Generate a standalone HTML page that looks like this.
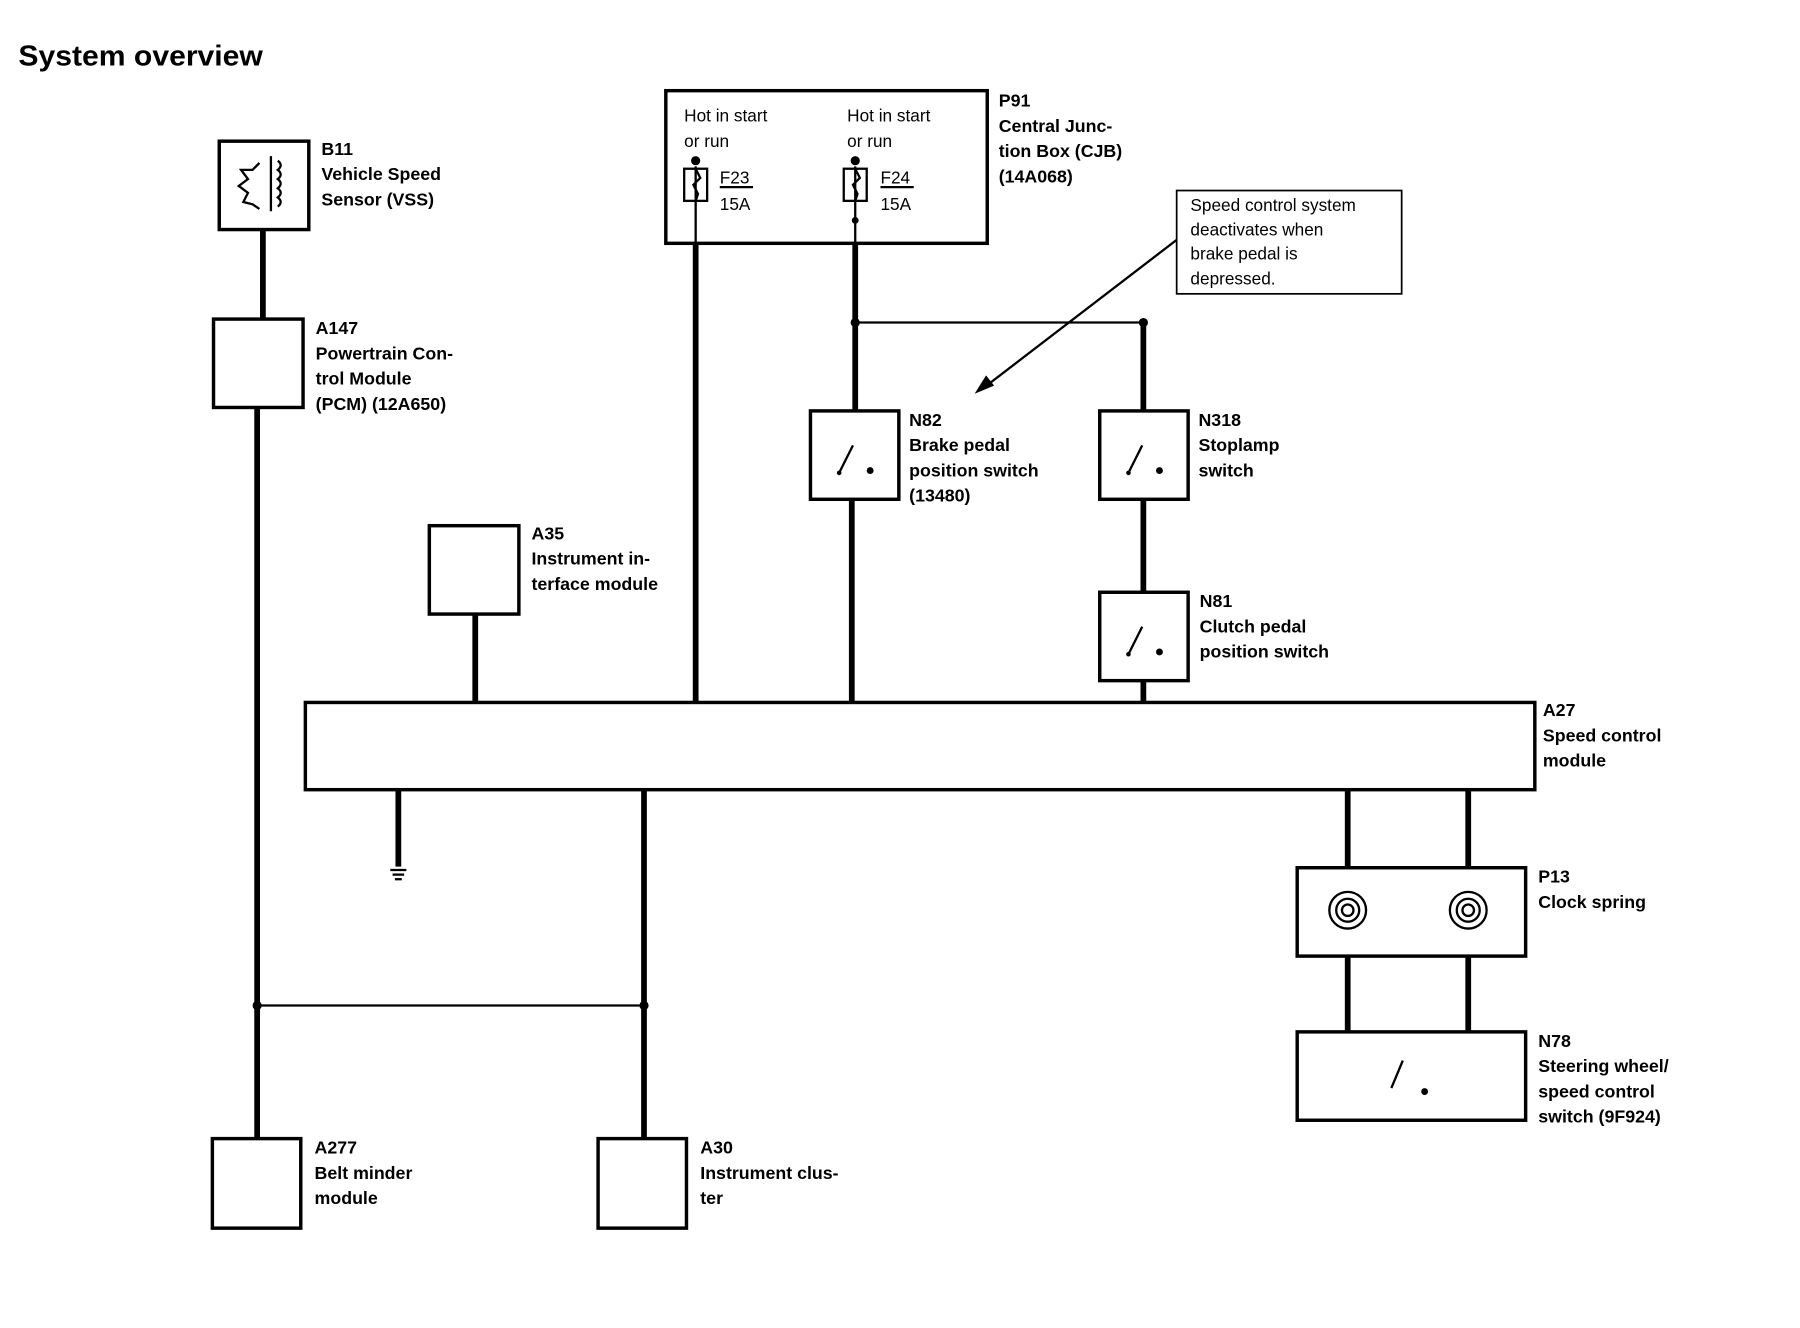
<!DOCTYPE html>
<html><head><meta charset="utf-8"><style>
html,body{margin:0;padding:0;background:#fff}
svg{display:block}
text{font-family:"Liberation Sans",Arial,sans-serif;fill:#000}
.b{font-weight:bold;font-size:15.5px}
.n{font-size:15px}
</style></head><body>
<svg width="1800" height="1328" viewBox="0 0 1568 1157" preserveAspectRatio="none" xmlns="http://www.w3.org/2000/svg">
<text x="16" y="57" textLength="213" lengthAdjust="spacingAndGlyphs" style="font-weight:bold;font-size:25px">System overview</text>
<g fill="none" stroke="#000" stroke-width="3">
<rect x="191" y="123" width="78" height="77"/>
<rect x="186" y="278" width="78" height="77"/>
<rect x="580" y="79" width="280" height="133"/>
<rect x="374" y="458" width="78" height="77"/>
<rect x="706" y="358" width="77" height="77"/>
<rect x="958" y="358" width="77" height="77"/>
<rect x="958" y="516" width="77" height="77"/>
<rect x="266" y="612" width="1071" height="76"/>
<rect x="1130" y="756" width="199" height="77"/>
<rect x="1130" y="899" width="199" height="77"/>
<rect x="185" y="992" width="77" height="78"/>
<rect x="521" y="992" width="77" height="78"/>
</g>
<rect x="1025" y="166" width="196" height="90" fill="none" stroke="#000" stroke-width="1.5"/>
<g stroke="#000" stroke-width="5" fill="none">
<line x1="229" y1="200" x2="229" y2="278"/>
<line x1="224" y1="355" x2="224" y2="992"/>
<line x1="606" y1="212" x2="606" y2="612"/>
<line x1="745" y1="212" x2="745" y2="358"/>
<line x1="996" y1="281" x2="996" y2="358"/>
<line x1="742" y1="435" x2="742" y2="612"/>
<line x1="996" y1="435" x2="996" y2="516"/>
<line x1="996" y1="593" x2="996" y2="612"/>
<line x1="414" y1="535" x2="414" y2="612"/>
<line x1="347" y1="688" x2="347" y2="755"/>
<line x1="561" y1="688" x2="561" y2="992"/>
<line x1="1174" y1="688" x2="1174" y2="756"/>
<line x1="1279" y1="688" x2="1279" y2="756"/>
<line x1="1174" y1="833" x2="1174" y2="899"/>
<line x1="1279" y1="833" x2="1279" y2="899"/>
</g>
<g stroke="#000" stroke-width="2" fill="none">
<line x1="745" y1="281" x2="996" y2="281"/>
<line x1="224" y1="876" x2="561" y2="876"/>
<line x1="1025" y1="209" x2="862" y2="334"/>
<line x1="606" y1="145" x2="606" y2="212"/>
<line x1="745" y1="145" x2="745" y2="212"/>
<rect x="596" y="147" width="20" height="28"/>
<rect x="735" y="147" width="20" height="28"/>
<path d="M606 147 l4 8 -6 6 4 8 -2 6"/>
<path d="M745 147 l4 8 -6 6 4 8 -2 6"/>
<line x1="627" y1="163" x2="656" y2="163"/>
<line x1="767" y1="163" x2="796" y2="163"/>
<line x1="340" y1="758" x2="354" y2="758"/>
<line x1="342" y1="762" x2="352" y2="762"/>
<line x1="344" y1="766" x2="350" y2="766"/>
<path d="M731 412 l12 -24"/><path d="M983 412 l12 -24"/><path d="M983 570 l12 -24"/><path d="M1212 948 l10 -24"/>
<circle cx="1174" cy="793" r="16"/><circle cx="1174" cy="793" r="10"/><circle cx="1174" cy="793" r="5"/>
<circle cx="1279" cy="793" r="16"/><circle cx="1279" cy="793" r="10"/><circle cx="1279" cy="793" r="5"/>
<path d="M236 136 v48 M242 140 q5 4 0 8 q5 4 0 8 q5 4 0 8 q5 4 0 8 q5 4 0 8"/>
<path d="M226 142 l-6 6 -10 0 6 8 -8 6 8 6 -4 8 8 2 6 4"/>
</g>
<polygon points="849,343 859,327 866,336" fill="#000"/>
<g fill="#000">
<circle cx="606" cy="140" r="4"/><circle cx="745" cy="140" r="4"/><circle cx="745" cy="192" r="3"/>
<circle cx="745" cy="281" r="4"/><circle cx="996" cy="281" r="4"/>
<circle cx="224" cy="876" r="4"/><circle cx="561" cy="876" r="4"/>
<circle cx="758" cy="410" r="3"/><circle cx="1010" cy="410" r="3"/><circle cx="1010" cy="568" r="3"/><circle cx="1241" cy="951" r="3"/>
<circle cx="731" cy="412" r="2"/><circle cx="983" cy="412" r="2"/><circle cx="983" cy="570" r="2"/>
</g>
<g class="b">
<text x="280" y="135">B11</text><text x="280" y="157">Vehicle Speed</text><text x="280" y="179">Sensor (VSS)</text>
<text x="275" y="291">A147</text><text x="275" y="313">Powertrain Con-</text><text x="275" y="335">trol Module</text><text x="275" y="357">(PCM) (12A650)</text>
<text x="870" y="93">P91</text><text x="870" y="115">Central Junc-</text><text x="870" y="137">tion Box (CJB)</text><text x="870" y="159">(14A068)</text>
<text x="463" y="470">A35</text><text x="463" y="492">Instrument in-</text><text x="463" y="514">terface module</text>
<text x="792" y="371">N82</text><text x="792" y="393">Brake pedal</text><text x="792" y="415">position switch</text><text x="792" y="437">(13480)</text>
<text x="1044" y="371">N318</text><text x="1044" y="393">Stoplamp</text><text x="1044" y="415">switch</text>
<text x="1045" y="529">N81</text><text x="1045" y="551">Clutch pedal</text><text x="1045" y="573">position switch</text>
<text x="1344" y="624">A27</text><text x="1344" y="646">Speed control</text><text x="1344" y="668">module</text>
<text x="1340" y="769">P13</text><text x="1340" y="791">Clock spring</text>
<text x="1340" y="912">N78</text><text x="1340" y="934">Steering wheel/</text><text x="1340" y="956">speed control</text><text x="1340" y="978">switch (9F924)</text>
<text x="274" y="1005">A277</text><text x="274" y="1027">Belt minder</text><text x="274" y="1049">module</text>
<text x="610" y="1005">A30</text><text x="610" y="1027">Instrument clus-</text><text x="610" y="1049">ter</text>
</g>
<g class="n">
<text x="596" y="106">Hot in start</text><text x="596" y="128">or run</text>
<text x="738" y="106">Hot in start</text><text x="738" y="128">or run</text>
<text x="627" y="160">F23</text><text x="627" y="183">15A</text>
<text x="767" y="160">F24</text><text x="767" y="183">15A</text>
<text x="1037" y="184">Speed control system</text><text x="1037" y="205">deactivates when</text><text x="1037" y="226">brake pedal is</text><text x="1037" y="248">depressed.</text>
</g>
</svg>
</body></html>
